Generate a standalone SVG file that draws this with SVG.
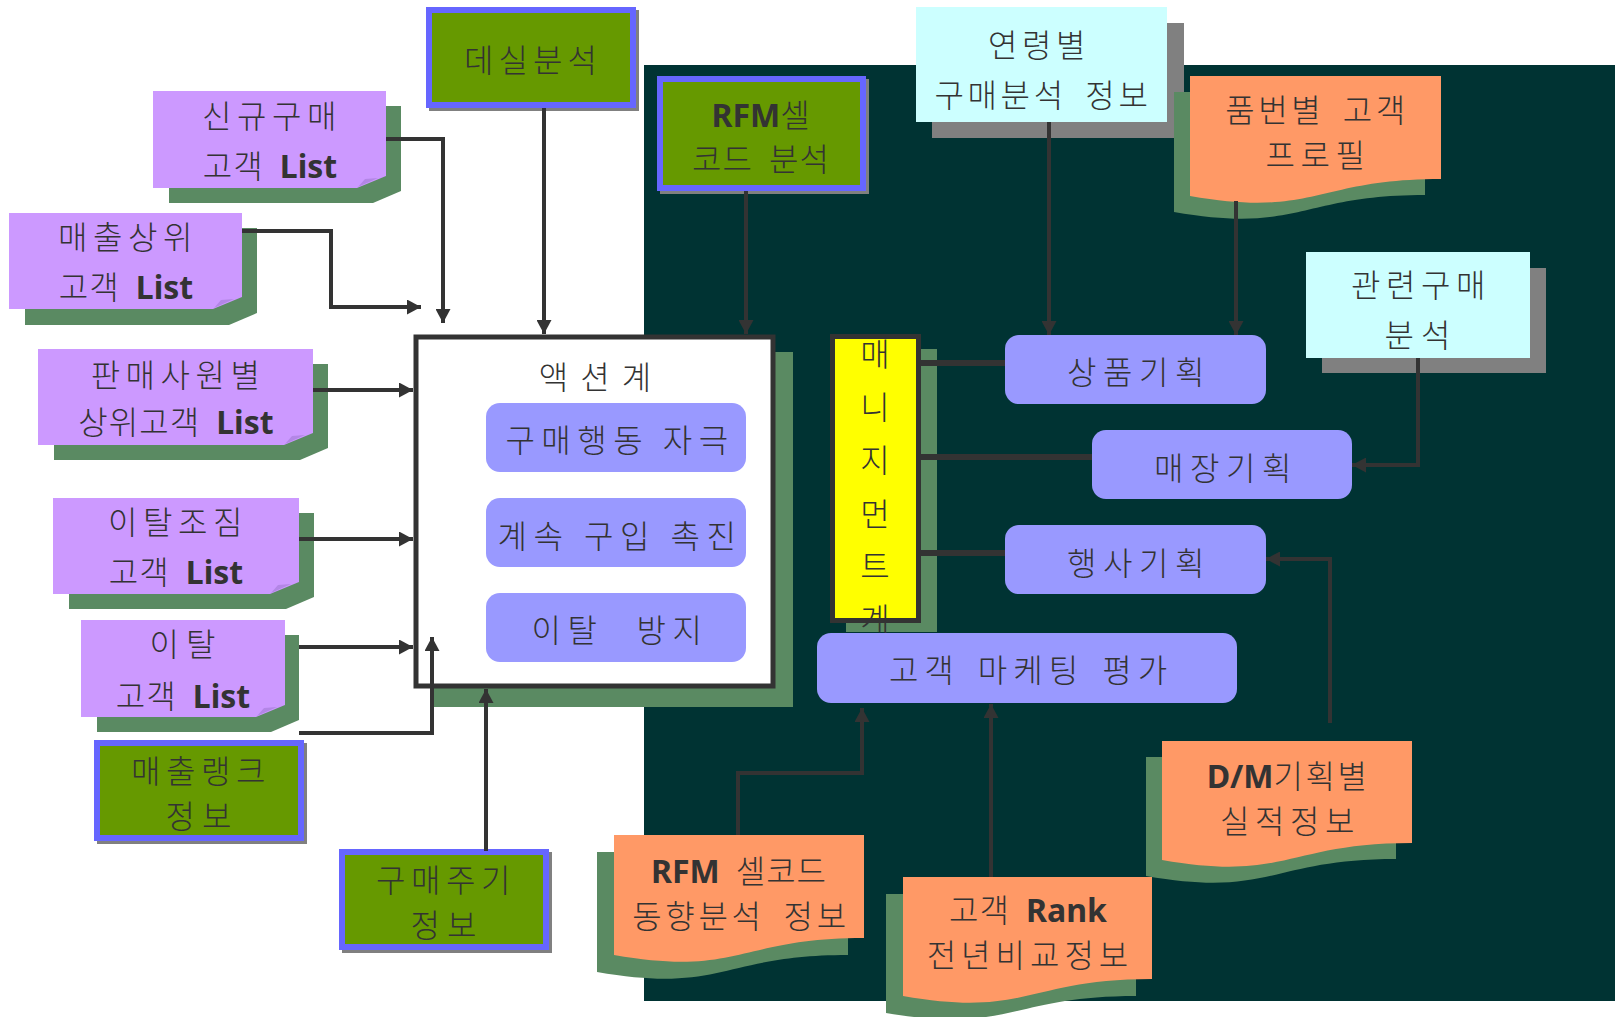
<svg xmlns="http://www.w3.org/2000/svg" width="1615" height="1017" viewBox="0 0 1615 1017">
<defs>
<style>
.t{font-family:"Noto Sans CJK KR","Noto Sans",sans-serif;font-size:32px;font-weight:300;fill:#333333;text-anchor:middle;letter-spacing:1px;word-spacing:8px}
.w{letter-spacing:5.5px;word-spacing:4px}
.b{font-family:"Noto Sans","Open Sans",sans-serif;font-weight:bold;letter-spacing:0}
.note{fill:#CC99FF}
.fold{fill:#B386E6}
.sh{fill:#5A8A62}
.gsh{fill:#808080}
.grn{fill:#669900;stroke:#6666FF;stroke-width:6}
.cyan{fill:#CCFFFF}
.doc{fill:#FF9966}
.lav{fill:#9999FF}
.c{fill:none;stroke:#333333;stroke-width:4}
.ct{fill:none;stroke:#333333;stroke-width:6}
</style>
<marker id="arr" viewBox="0 0 14 15" refX="14" refY="7.5" markerWidth="14" markerHeight="15" orient="auto" markerUnits="userSpaceOnUse">
<path d="M0,0 L14,7.5 L0,15 Z" fill="#333333"/>
</marker>
</defs>

<rect id="panel" x="644" y="65" width="971" height="936" fill="#003333"/>

<g id="n-sinkyu">
<path class="sh" d="M169,106 H401 V191 L373,203 H169 Z"/>
<path class="note" d="M153,91 H386 V176 L357,188 H153 Z"/>
<polygon class="fold" points="358,187 365,179 378,178"/>
<text class="t w" x="272" y="128">신규구매</text>
<text class="t" x="270" y="178">고객 <tspan class="b">List</tspan></text>
</g>

<g id="n-maechul">
<path class="sh" d="M25,228 H257 V313 L229,325 H25 Z"/>
<path class="note" d="M9,213 H242 V297 L213,309 H9 Z"/>
<polygon class="fold" points="214,308 221,300 234,299"/>
<text class="t w" x="128" y="249">매출상위</text>
<text class="t" x="126" y="299">고객 <tspan class="b">List</tspan></text>
</g>

<g id="n-panmae">
<path class="sh" d="M54,364 H328 V448 L300,460 H54 Z"/>
<path class="note" d="M38,349 H313 V433 L284,445 H38 Z"/>
<polygon class="fold" points="285,444 292,436 305,435"/>
<text class="t w" x="178" y="387">판매사원별</text>
<text class="t" x="176" y="434">상위고객 <tspan class="b">List</tspan></text>
</g>

<g id="n-italjojim">
<path class="sh" d="M69,513 H314 V597 L286,609 H69 Z"/>
<path class="note" d="M53,498 H299 V582 L270,594 H53 Z"/>
<polygon class="fold" points="271,593 278,585 291,584"/>
<text class="t w" x="178" y="534">이탈조짐</text>
<text class="t" x="176" y="584">고객 <tspan class="b">List</tspan></text>
</g>

<g id="n-ital">
<path class="sh" d="M97,635 H299 V720 L271,732 H97 Z"/>
<path class="note" d="M81,620 H285 V705 L256,717 H81 Z"/>
<polygon class="fold" points="257,716 264,708 277,707"/>
<text class="t" x="186" y="656" style="letter-spacing:7px">이탈</text>
<text class="t" x="183" y="708">고객 <tspan class="b">List</tspan></text>
</g>

<g id="n-maechulrank">
<rect class="gsh" x="97" y="743" width="210" height="101"/>
<rect class="grn" x="97" y="743" width="204" height="95"/>
<text class="t w" x="201" y="783">매출랭크</text>
<text class="t" x="202" y="828" style="letter-spacing:7px">정보</text>
</g>

<g id="n-gumaejugi">
<rect class="gsh" x="342" y="852" width="210" height="101"/>
<rect class="grn" x="342" y="852" width="204" height="95"/>
<text class="t w" x="446" y="892">구매주기</text>
<text class="t" x="447" y="937" style="letter-spacing:7px">정보</text>
</g>

<g id="n-desil">
<rect class="gsh" x="429" y="10" width="210" height="101"/>
<rect class="grn" x="429" y="10" width="204" height="95"/>
<text class="t" x="533" y="72" style="letter-spacing:5px">데실분석</text>
</g>

<g id="n-rfmcell">
<rect class="gsh" x="660" y="79" width="209" height="115"/>
<rect class="grn" x="660" y="79" width="203" height="109"/>
<text class="t" x="761" y="127"><tspan class="b">RFM</tspan>셀</text>
<text class="t" x="761" y="171">코드 분석</text>
</g>

<g id="n-action">
<rect class="sh" x="430" y="352" width="363" height="355"/>
<rect x="416" y="337" width="357" height="349" fill="#FFFFFF" stroke="#333333" stroke-width="5"/>
<text class="t" x="601" y="389" style="letter-spacing:12px">액션계</text>
<rect class="lav" x="486" y="403" width="260" height="69" rx="14"/>
<text class="t" x="620" y="452" style="letter-spacing:6.5px;word-spacing:0">구매행동 자극</text>
<rect class="lav" x="486" y="498" width="260" height="69" rx="14"/>
<text class="t" x="620" y="548" style="letter-spacing:6.5px;word-spacing:1px">계속 구입 촉진</text>
<rect class="lav" x="486" y="593" width="260" height="69" rx="14"/>
<text class="t" x="620" y="642" xml:space="preserve" style="letter-spacing:6.5px;word-spacing:3px">이탈  방지</text>
</g>

<g id="n-management">
<rect class="sh" x="846" y="349" width="91" height="283"/>
<rect x="832.5" y="336.5" width="86" height="284" fill="#FFFF00" stroke="#333333" stroke-width="5"/>
<text class="t" x="875" y="366" style="letter-spacing:0">매<tspan x="875" dy="53">니</tspan><tspan x="875" dy="53">지</tspan><tspan x="875" dy="54">먼</tspan><tspan x="875" dy="52">트</tspan><tspan x="875" dy="53">계</tspan></text>
</g>

<g id="n-yeonryeong">
<rect class="gsh" x="932" y="23" width="252" height="115"/>
<rect class="cyan" x="916" y="7" width="251" height="115"/>
<text class="t" x="1039" y="57" style="letter-spacing:4.5px">연령별</text>
<text class="t" x="1043" y="107" style="letter-spacing:3.6px">구매분석 정보</text>
</g>

<g id="n-pumbeon">
<path class="sh" d="M1174,92 H1425 V195 C1299.5,195 1299.5,234 1174,212 Z"/>
<path class="doc" d="M1190,76 H1441 V179 C1315.5,179 1315.5,218 1190,196 Z"/>
<text class="t" x="1317" y="122" style="letter-spacing:3.5px">품번별 고객</text>
<text class="t" x="1318" y="167" style="letter-spacing:5.5px">프로필</text>
</g>

<g id="n-gwanryeon">
<rect class="gsh" x="1322" y="268" width="224" height="105"/>
<rect class="cyan" x="1306" y="252" width="224" height="106"/>
<text class="t w" x="1421" y="297">관련구매</text>
<text class="t" x="1421" y="347" style="letter-spacing:7px">분석</text>
</g>

<g id="n-sangpum">
<rect class="lav" x="1005" y="335" width="261" height="69" rx="14"/>
<text class="t" x="1139" y="384" style="letter-spacing:6.5px">상품기획</text>
</g>

<g id="n-maejang">
<rect class="lav" x="1092" y="430" width="260" height="69" rx="14"/>
<text class="t" x="1226" y="480" style="letter-spacing:6.5px">매장기획</text>
</g>

<g id="n-haengsa">
<rect class="lav" x="1005" y="525" width="261" height="69" rx="14"/>
<text class="t" x="1139" y="575" style="letter-spacing:6.5px">행사기획</text>
</g>

<g id="n-gogaekmarketing">
<rect class="lav" x="817" y="633" width="420" height="70" rx="14"/>
<text class="t" x="1031" y="682" style="letter-spacing:6px;word-spacing:5px">고객 마케팅 평가</text>
</g>

<g id="n-rfmtrend">
<path class="sh" d="M597,852 H848 V955 C722.5,955 722.5,994 597,972 Z"/>
<path class="doc" d="M614,835 H864 V938 C739,938 739,977 614,955 Z"/>
<text class="t" x="739" y="883"><tspan class="b">RFM</tspan> 셀코드</text>
<text class="t" x="741" y="928" style="letter-spacing:3.7px">동향분석 정보</text>
</g>

<g id="n-rank">
<path class="sh" d="M886,894 H1136 V996 C1011,996 1011,1034 886,1013 Z"/>
<path class="doc" d="M903,877 H1152 V979 C1027.5,979 1027.5,1018 903,996 Z"/>
<text class="t" x="1028" y="922">고객 <tspan class="b">Rank</tspan></text>
<text class="t" x="1030" y="967" style="letter-spacing:5px">전년비교정보</text>
</g>

<g id="n-dm">
<path class="sh" d="M1146,757 H1396 V859 C1271,859 1271,898 1146,876 Z"/>
<path class="doc" d="M1162,741 H1412 V843 C1287,843 1287,882 1162,860 Z"/>
<text class="t" x="1288" y="788" style="letter-spacing:2.5px"><tspan class="b">D/M</tspan>기획별</text>
<text class="t w" x="1290" y="833">실적정보</text>
</g>

<g id="connectors">
<path class="c" d="M386,139 H443 V323" marker-end="url(#arr)"/>
<path class="c" d="M242,231 H331 V307 H421" marker-end="url(#arr)"/>
<path class="c" d="M313,390 H413" marker-end="url(#arr)"/>
<path class="c" d="M299,539 H413" marker-end="url(#arr)"/>
<path class="c" d="M299,647 H413" marker-end="url(#arr)"/>
<path class="c" d="M299,733 H432 V637" marker-end="url(#arr)"/>
<path class="c" d="M544,108 V334" marker-end="url(#arr)"/>
<path class="c" d="M746,191 V334" marker-end="url(#arr)"/>
<path class="c" d="M486,851 V689" marker-end="url(#arr)"/>
<path class="c" d="M1049,122 V335" marker-end="url(#arr)"/>
<path class="c" d="M1236,201 V335" marker-end="url(#arr)"/>
<path class="c" d="M1418,358 V465 H1352" marker-end="url(#arr)"/>
<path class="c" d="M1330,723 V559 H1266" marker-end="url(#arr)"/>
<path class="c" d="M738,835 V773 H862 V708" marker-end="url(#arr)"/>
<path class="c" d="M991,877 V704" marker-end="url(#arr)"/>
<path class="ct" d="M921,363 H1005"/>
<path class="ct" d="M921,457 H1092"/>
<path class="ct" d="M921,553 H1005"/>
</g>
</svg>
